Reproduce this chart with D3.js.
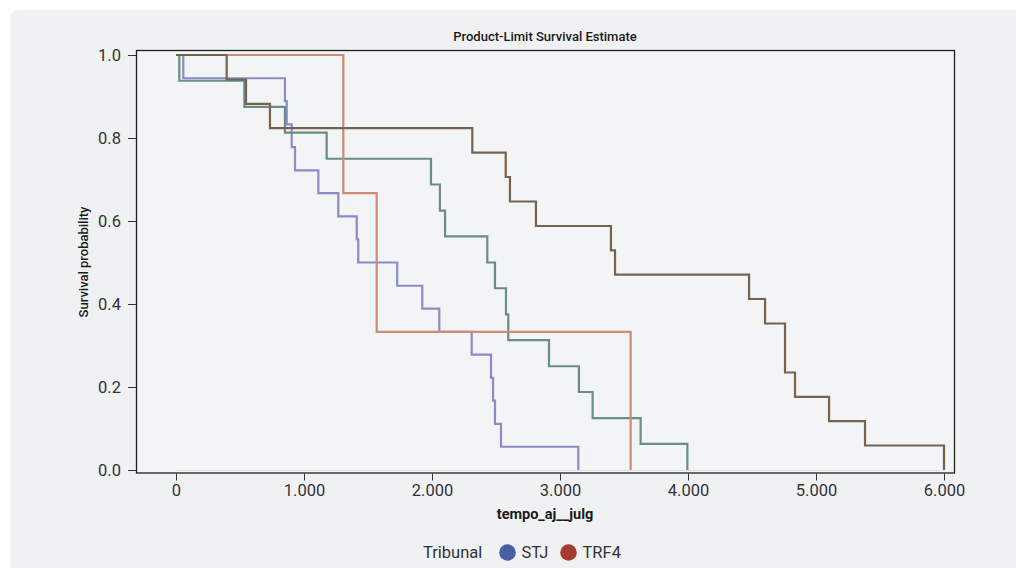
<!DOCTYPE html>
<html>
<head>
<meta charset="utf-8">
<script src="https://cdn.jsdelivr.net/npm/d3@7"></script>
<style>
  html, body { margin: 0; padding: 0; background: #ffffff; }
  svg { display: block; font-family: Roboto, "Noto Sans", sans-serif; }
</style>
</head>
<body>
<svg id="chart" width="1016" height="568"></svg>
<script>
// ---- data ----
const titleText = "Product-Limit Survival Estimate";
const xLabel = "tempo_aj__julg";
const yLabel = "Survival probability";
const xTicks = [0, 1000, 2000, 3000, 4000, 5000, 6000];
const yTicks = [0, 0.2, 0.4, 0.6, 0.8, 1.0];
const legendTitle = "Tribunal";
const legendNames = ["STJ", "TRF4"];
const legendColors = ["#4a5ea6", "#a63c31"];

const curveNames = ["blue", "teal", "brown", "orange"];
const curveColors = ["#8a8cc3", "#6a8d86", "#75634f", "#cc8c78"];

const blueTimes = [0, 57, 851, 865, 904, 930, 1112, 1268, 1412, 1424, 1728, 1924, 2057, 2310, 2461, 2477, 2492, 2539, 3143];
const blueSurv  = [1, 0.944, 0.889, 0.833, 0.778, 0.722, 0.667, 0.611, 0.556, 0.5, 0.444, 0.389, 0.333, 0.278, 0.222, 0.167, 0.111, 0.056, 0];

const tealTimes = [0, 26, 534, 851, 1177, 1992, 2062, 2102, 2432, 2492, 2578, 2596, 2914, 3148, 3255, 3630, 3995];
const tealSurv  = [1, 0.938, 0.875, 0.813, 0.75, 0.688, 0.625, 0.563, 0.5, 0.438, 0.375, 0.313, 0.25, 0.188, 0.125, 0.063, 0];

const brownTimes = [0, 396, 547, 734, 2315, 2576, 2609, 2812, 3398, 3430, 4477, 4602, 4758, 4836, 5102, 5383, 6000];
const brownSurv  = [1, 0.941, 0.882, 0.824, 0.765, 0.706, 0.647, 0.588, 0.529, 0.471, 0.412, 0.353, 0.235, 0.176, 0.118, 0.059, 0];

const orangeTimes = [0, 1307, 1568, 3552];
const orangeSurv  = [1, 0.667, 0.333, 0];

const curveTimes = [blueTimes, tealTimes, brownTimes, orangeTimes];
const curveSurv = [blueSurv, tealSurv, brownSurv, orangeSurv];
const drawOrder = [0, 1, 3, 2];

// ---- drawing ----
const svg = d3.select("#chart");
const fmtX = d => d3.format(",")(d).replace(/,/g, ".");

// panel background
svg.append("rect").attr("x", 10).attr("y", 10).attr("width", 1030).attr("height", 600)
  .attr("rx", 9).attr("fill", "#f0f1f3");

const frame = { left: 136, right: 955, top: 50, bottom: 473.5 };
const x = d3.scaleLinear().domain([0, 6000]).range([176, 944]);
const y = d3.scaleLinear().domain([0, 1]).range([470, 55]);

// plot interior
svg.append("rect").attr("x", frame.left).attr("y", frame.top)
  .attr("width", frame.right - frame.left).attr("height", frame.bottom - frame.top)
  .attr("fill", "#f3f4f5");
svg.append("line").attr("x1", x(0)).attr("x2", x(6000)).attr("y1", y(0) + 0.5).attr("y2", y(0) + 0.5)
  .attr("stroke", "#dfe2e6").attr("stroke-width", 1);

// title
svg.append("text").attr("x", 545).attr("y", 41).attr("text-anchor", "middle")
  .attr("font-size", 13).attr("font-weight", 500).attr("fill", "#1a1a1a").text(titleText);

// curves
const line = d3.line().x(d => x(d[0])).y(d => y(d[1])).curve(d3.curveStepAfter);
const gCurves = svg.append("g");
drawOrder.forEach(i => {
  const pts = curveTimes[i].map((t, k) => [t, curveSurv[i][k]]);
  gCurves.append("path").datum(pts).attr("d", line)
    .attr("fill", "none").attr("stroke", curveColors[i]).attr("stroke-width", 2.2)
    .attr("stroke-linejoin", "miter").attr("class", "curve-" + curveNames[i]);
});

// frame
svg.append("rect").attr("x", frame.left + 0.5).attr("y", frame.top + 0.5)
  .attr("width", frame.right - frame.left - 1).attr("height", frame.bottom - frame.top - 1)
  .attr("fill", "none").attr("stroke", "#1f1f1f").attr("stroke-width", 1.3);

// x axis
const xAxis = d3.axisBottom(x).tickValues(xTicks).tickFormat(fmtX).tickSize(7).tickPadding(4);
const gx = svg.append("g").attr("transform", `translate(0,${frame.bottom})`).call(xAxis);
gx.select(".domain").remove();
gx.selectAll("line").attr("stroke", "#333");
gx.selectAll("text").attr("font-size", 16.5).attr("fill", "#333").attr("font-family", "Roboto, sans-serif");

// y axis
const yAxis = d3.axisLeft(y).tickValues(yTicks).tickFormat(d3.format(".1f")).tickSize(8).tickPadding(7);
const gy = svg.append("g").attr("transform", `translate(${frame.left},0)`).call(yAxis);
gy.select(".domain").remove();
gy.selectAll("line").attr("stroke", "#333");
gy.selectAll("text").attr("font-size", 16.5).attr("fill", "#333").attr("font-family", "Roboto, sans-serif");

// axis labels
svg.append("text").attr("x", 545).attr("y", 519).attr("text-anchor", "middle")
  .attr("font-size", 14.5).attr("font-weight", 700).attr("fill", "#1a1a1a").text(xLabel);
svg.append("text").attr("transform", "translate(88,262) rotate(-90)").attr("text-anchor", "middle")
  .attr("font-size", 13).attr("font-weight", 500).attr("fill", "#1a1a1a").text(yLabel);

// legend
const lg = svg.append("g");
lg.append("text").attr("x", 423).attr("y", 558).attr("font-size", 16.5).attr("fill", "#333").text(legendTitle);
const legendX = [507.5, 568.5];
legendNames.forEach((n, i) => {
  lg.append("circle").attr("cx", legendX[i]).attr("cy", 552.5).attr("r", 8.3).attr("fill", legendColors[i]);
  lg.append("text").attr("x", legendX[i] + 14).attr("y", 558).attr("font-size", 16.5).attr("fill", "#333").text(n);
});
</script>
</body>
</html>
